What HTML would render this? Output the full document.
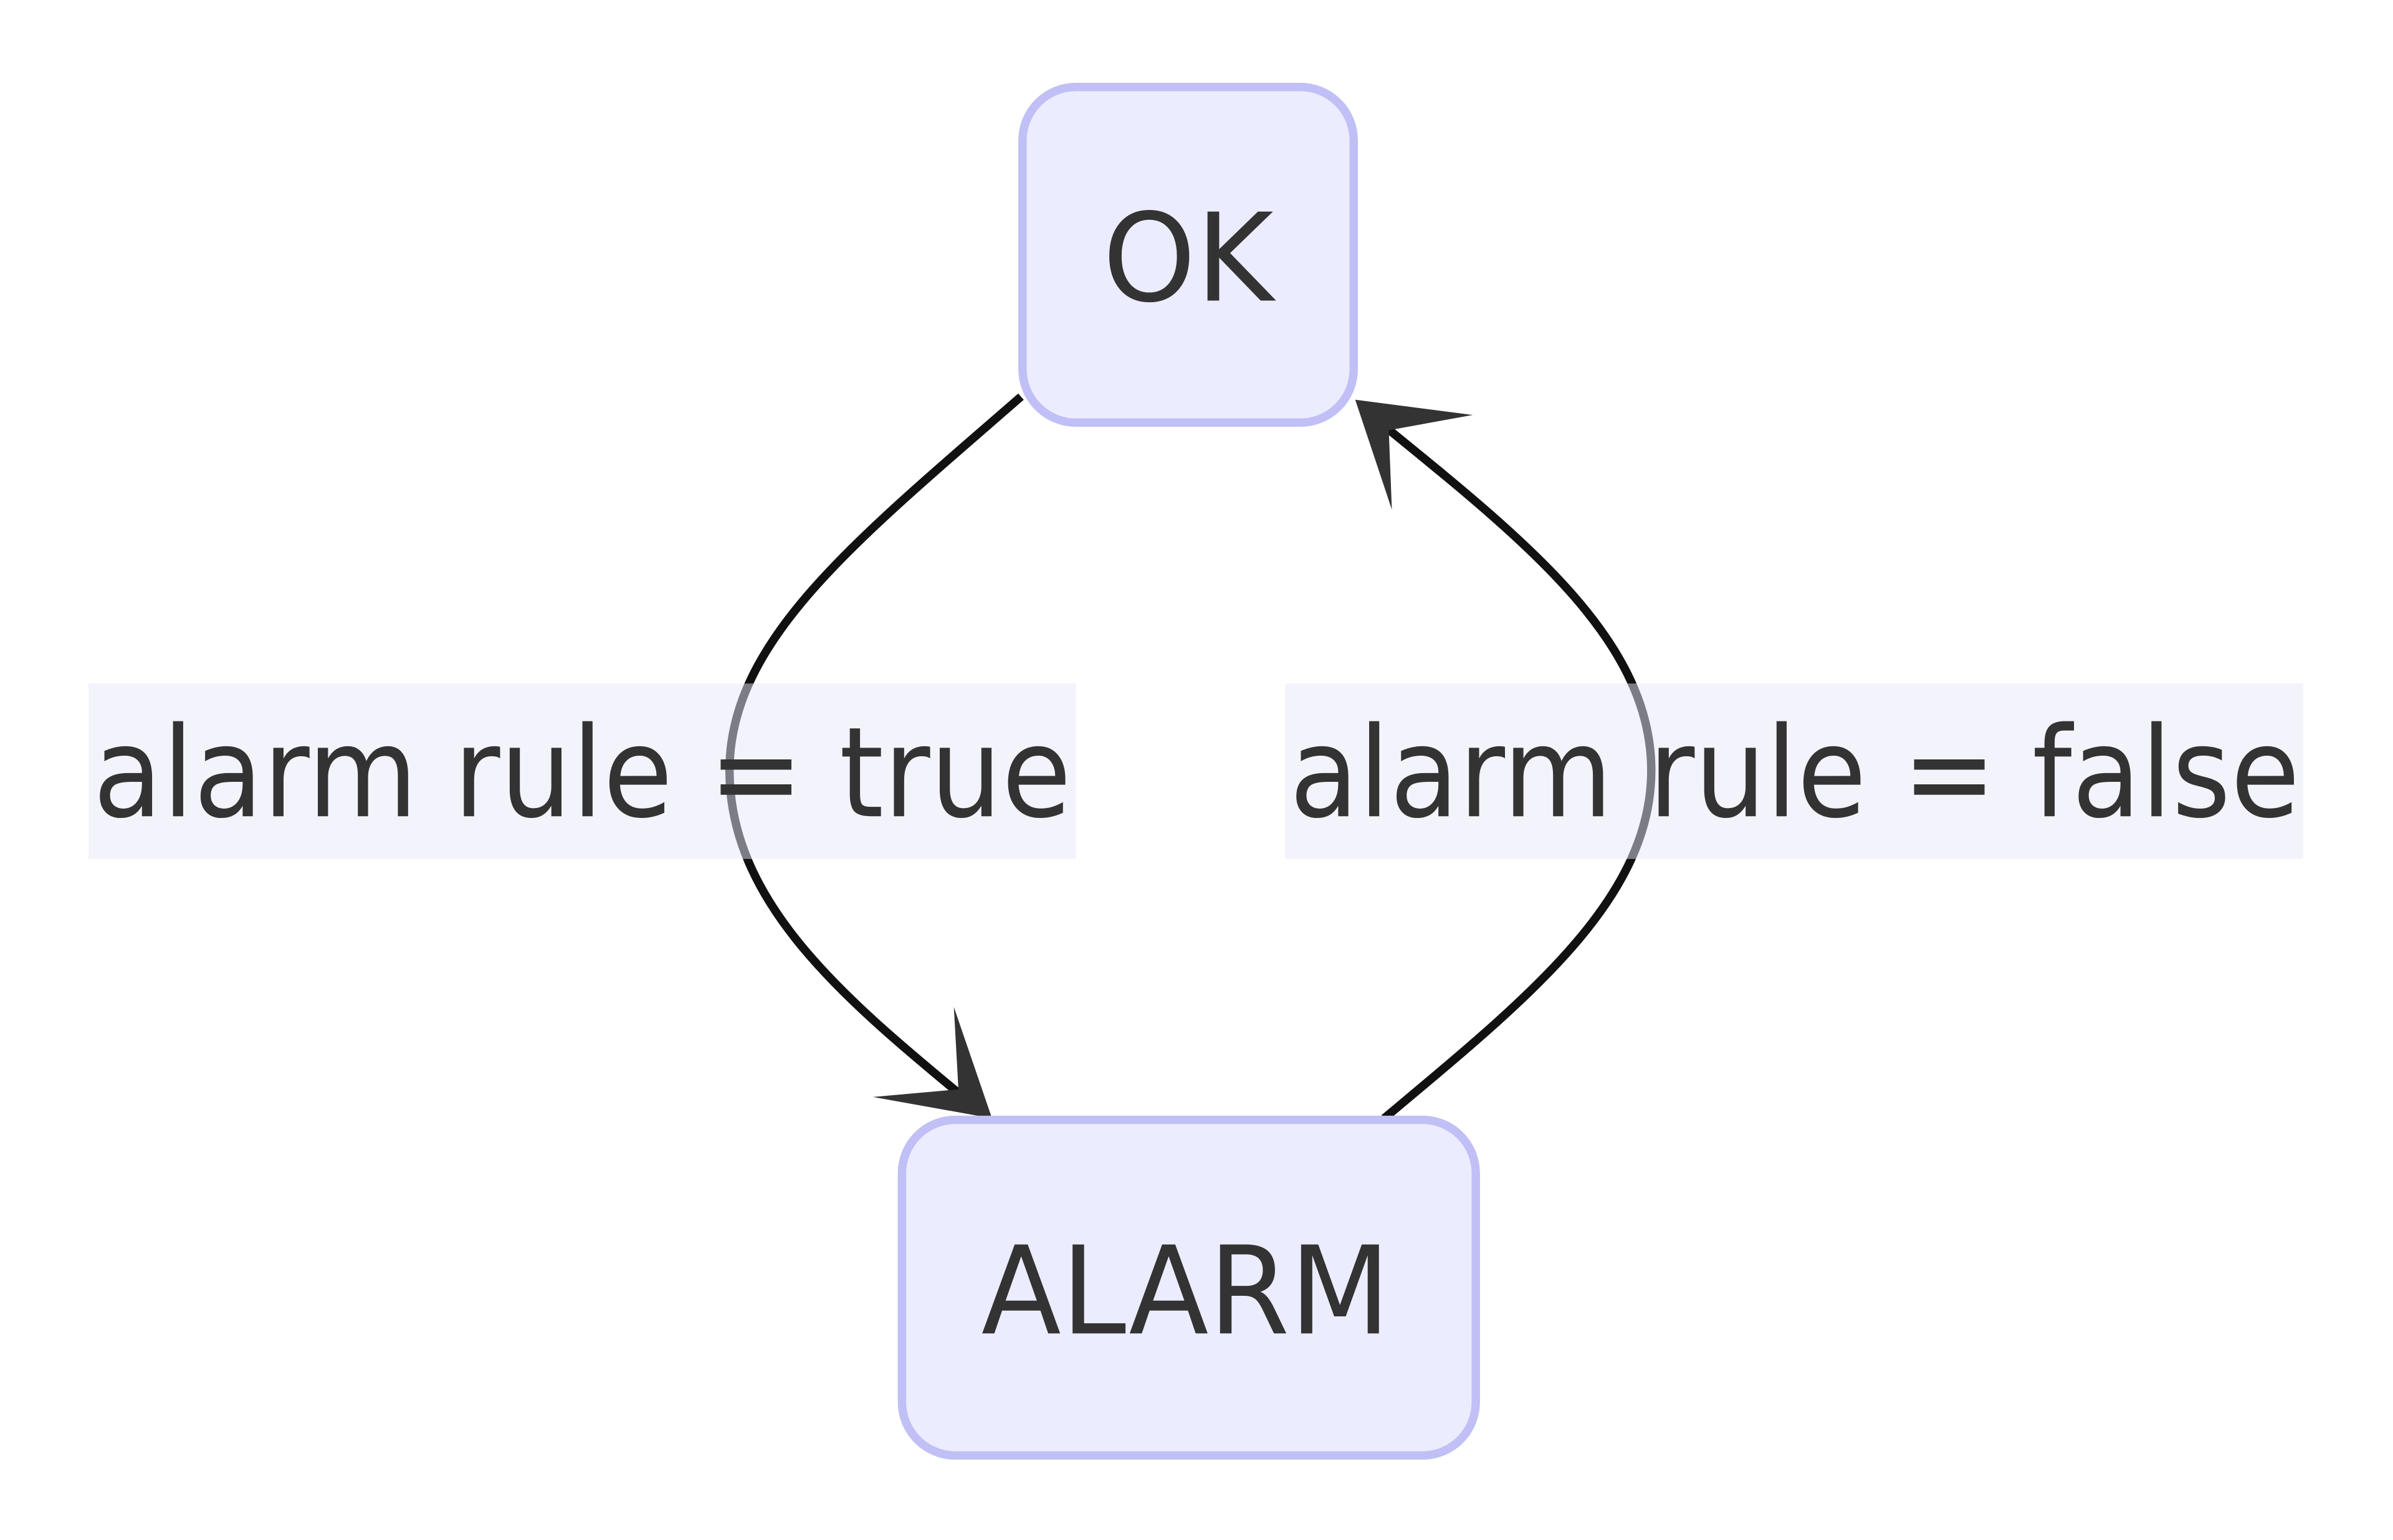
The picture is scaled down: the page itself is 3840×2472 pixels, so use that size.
<!DOCTYPE html>
<html><head><meta charset="utf-8"><style>
html,body{margin:0;padding:0;background:#fff;}
svg{display:block;}
text{font-family:"DejaVu Sans","Liberation Sans",sans-serif;fill:#333;}
</style></head><body>
<svg width="3840" height="2472" viewBox="0 0 1568 1009.4" preserveAspectRatio="none">
<rect width="1568" height="1010" fill="#fff"/>
<path d="M669,260 C560,355 478,420 478,505 C478,590 550,652 630,718" fill="none" stroke="#111" stroke-width="5.5"/>
<polygon points="650,733 572,719 628,714 625,660" fill="#333"/>
<path d="M907,733 C1000,655 1082,590 1082,505 C1082,420 1000,355 908,280" fill="none" stroke="#111" stroke-width="5.5"/>
<polygon points="888,262 965,272 910,282 912,334" fill="#333"/>
<rect x="670" y="57" width="217" height="220" rx="35" fill="#ececff" stroke="#c0c0f6" stroke-width="5.5"/>
<text x="778.5" y="197" font-size="80" text-anchor="middle" textLength="112" lengthAdjust="spacingAndGlyphs">OK</text>
<rect x="591" y="734" width="376" height="220" rx="35" fill="#ececff" stroke="#c0c0f6" stroke-width="5.5"/>
<text x="777" y="874" font-size="80" text-anchor="middle" textLength="268" lengthAdjust="spacingAndGlyphs">ALARM</text>
<rect x="58" y="448" width="647" height="115" fill="rgba(232,232,250,0.5)"/>
<text x="61" y="535" font-size="82" textLength="641" lengthAdjust="spacingAndGlyphs">alarm rule = true</text>
<rect x="842" y="448" width="667" height="115" fill="rgba(232,232,250,0.5)"/>
<text x="845" y="535" font-size="82" textLength="662" lengthAdjust="spacingAndGlyphs">alarm rule = false</text>
</svg>
</body></html>
